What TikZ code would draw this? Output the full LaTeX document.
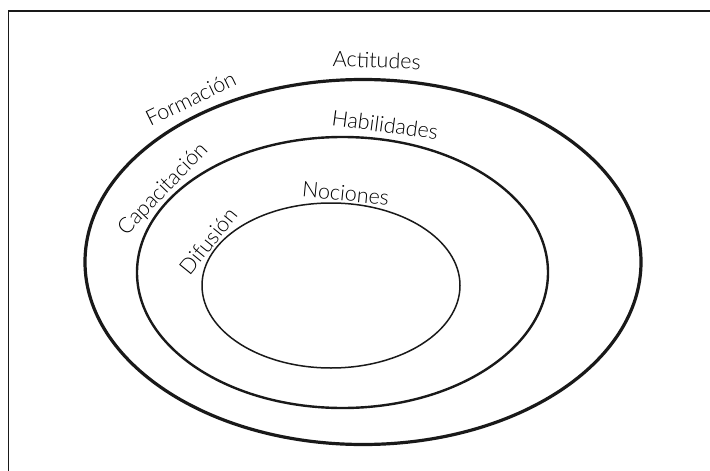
\documentclass[tikz,border=0pt]{standalone}
\usepackage{fontspec}
\setmainfont{Lato Light}
\begin{document}
\begin{tikzpicture}[x=1pt,y=-1pt,
  lbl/.style={font=\fontsize{21.5}{24}\selectfont, inner sep=0pt, anchor=base},
  ring/.style={draw=black!90}]
\useasboundingbox (0,0) rectangle (710,471);
\draw[line width=1.6pt, black!90] (8.5,471) -- (8.5,11) -- (710,11);
\draw[ring, line width=3.2pt] (363,262) ellipse [x radius=278, y radius=182.5];
\draw[ring, line width=2.4pt] (342.5,272.5) ellipse [x radius=205.5, y radius=135.5];
\draw[ring, line width=1.5pt] (331,285.5) ellipse [x radius=129, y radius=82.5];
\node[lbl, rotate=-2] (act) at (376.5,68) {Actitudes};
\node[lbl, rotate=-7.5] (hab) at (384,132.5) {Habilidades};
\node[lbl, rotate=-5.5] (noc) at (345,201) {Nociones};
\node[lbl, rotate=26] (for) at (194,105.5) {Formación};
\node[lbl, rotate=46] (cap) at (167.5,193.5) {Capacitación};
\node[lbl, rotate=51] (dif) at (214,246) {Difusión};
\end{tikzpicture}
\end{document}
